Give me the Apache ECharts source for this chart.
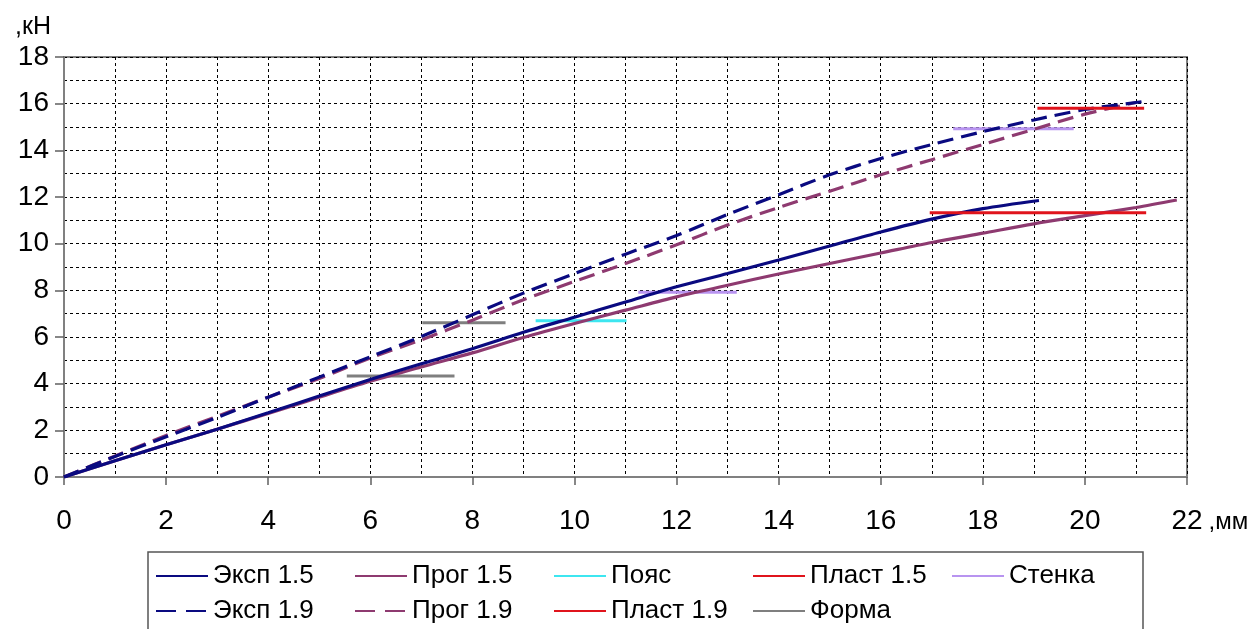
<!DOCTYPE html>
<html>
<head>
<meta charset="utf-8">
<script src="https://cdn.jsdelivr.net/npm/echarts@6/dist/echarts.min.js"></script>
<style>html,body{margin:0;padding:0;background:#fff;}#c{width:1256px;height:629px;}</style>
</head>
<body>
<div id="c"></div>
<script>
// ---- data ----
const xTicks = [0, 2, 4, 6, 8, 10, 12, 14, 16, 18, 20, 22];
const yTicks = [0, 2, 4, 6, 8, 10, 12, 14, 16, 18];

const exp15X = [0, 1, 2, 3, 4, 5, 6, 7, 8, 9, 10, 11, 12, 13, 14, 15, 16, 17, 18, 19.1];
const exp15Y = [0, 0.7, 1.38, 2.05, 2.75, 3.47, 4.18, 4.85, 5.5, 6.2, 6.85, 7.5, 8.15, 8.72, 9.3, 9.9, 10.5, 11.05, 11.5, 11.85];

const prog15X = [0, 1, 2, 3, 4, 5, 6, 7, 8, 9, 10, 11, 12, 13, 14, 15, 16, 17, 18, 19, 20, 21, 21.8];
const prog15Y = [0, 0.7, 1.38, 2.05, 2.72, 3.42, 4.1, 4.72, 5.32, 5.98, 6.58, 7.15, 7.72, 8.22, 8.7, 9.15, 9.6, 10.05, 10.45, 10.85, 11.2, 11.55, 11.87];

const exp19X = [0, 1, 2, 3, 4, 5, 6, 7, 8, 9, 10, 11, 12, 13, 14, 15, 16, 17, 18, 19, 20, 21, 21.25];
const exp19Y = [0, 0.88, 1.72, 2.55, 3.42, 4.28, 5.15, 6.02, 6.95, 7.88, 8.72, 9.55, 10.35, 11.25, 12.1, 12.95, 13.65, 14.25, 14.8, 15.3, 15.75, 16.05, 16.12];

const prog19X = [0, 1, 2, 3, 4, 5, 6, 7, 8, 9, 10, 11, 12, 13, 14, 15, 16, 17, 18, 19, 20, 21];
const prog19Y = [0, 0.9, 1.78, 2.6, 3.42, 4.22, 5.1, 5.88, 6.72, 7.6, 8.38, 9.15, 9.95, 10.8, 11.55, 12.25, 12.95, 13.6, 14.25, 14.9, 15.55, 16.05];

// horizontal levels: [xStart, xEnd, y]
const poyas   = [9.24, 11.02, 6.70];
const plast15 = [16.96, 21.2, 11.33];
const plast19 = [19.07, 21.16, 15.80];
const stenka1 = [11.25, 13.18, 7.92];
const stenka2 = [17.42, 19.78, 14.92];
const forma1  = [5.54, 7.65, 4.33];
const forma2  = [7.02, 8.65, 6.61];

const legendOrder = ['Эксп 1.5', 'Прог 1.5', 'Пояс', 'Пласт 1.5', 'Стенка', 'Эксп 1.9', 'Прог 1.9', 'Пласт 1.9', 'Форма'];
const dashedNames = ['Эксп 1.9', 'Прог 1.9'];

// ---- build ----
const zip = (xs, ys) => xs.map((x, i) => [x, ys[i]]);
const seg = s => [[s[0], s[2]], [s[1], s[2]]];
const FONT = '"Liberation Sans", Arial, sans-serif';

function lineSeries(name, data, color, width, dash, z, smooth) {
  return {
    name, type: 'line', data, symbol: 'none', showSymbol: false, smooth: smooth || false,
    lineStyle: { color, width, type: dash || 'solid' },
    itemStyle: { color },
    z: z || 2, silent: true, animation: false
  };
}

const NAVY = '#0a0a80', PLUM = '#8e3a70', CYAN = '#3de6f0', RED = '#e0141c', LILAC = '#b894f0', GRAY = '#7f7f7f';

const series = [
  lineSeries('Пояс', seg(poyas), CYAN, 3),
  lineSeries('Стенка', seg(stenka1), LILAC, 3),
  lineSeries('Стенка', seg(stenka2), LILAC, 3),
  lineSeries('Форма', seg(forma1), GRAY, 3),
  lineSeries('Форма', seg(forma2), GRAY, 3),
  lineSeries('Прог 1.5', zip(prog15X, prog15Y), PLUM, 3.2, null, 2, 0.3),
  lineSeries('Прог 1.9', zip(prog19X, prog19Y), PLUM, 3.2, [16, 8], 2, 0.3),
  lineSeries('Эксп 1.5', zip(exp15X, exp15Y), NAVY, 3.2, null, 2, 0.3),
  lineSeries('Эксп 1.9', zip(exp19X, exp19Y), NAVY, 3.2, [16, 8], 2, 0.3),
  lineSeries('Пласт 1.5', seg(plast15), RED, 3, null, 3),
  lineSeries('Пласт 1.9', seg(plast19), RED, 3, null, 3)
];

const legendData = legendOrder.map(n => dashedNames.includes(n)
  ? { name: n, lineStyle: { type: [20, 10] } }
  : { name: n });

const gridLine = { show: true, lineStyle: { color: '#000', width: 1, type: [3, 3] } };

const option = {
  backgroundColor: '#fff',
  animation: false,
  textStyle: { fontFamily: FONT },
  grid: { left: 64, right: 69, top: 57, bottom: 152, show: true, borderColor: '#808080', borderWidth: 2, backgroundColor: 'transparent', containLabel: false },
  xAxis: {
    type: 'value', min: xTicks[0], max: xTicks[xTicks.length - 1], interval: xTicks[1] - xTicks[0],
    name: ',мм', nameLocation: 'end', nameGap: 17,
    nameTextStyle: { fontSize: 24, color: '#000', fontFamily: FONT, align: 'left', verticalAlign: 'top', padding: [33, 0, 0, 0] },
    axisLine: { show: true, onZero: false, lineStyle: { color: '#808080', width: 2 } },
    axisTick: { show: true, inside: false, length: 8, lineStyle: { color: '#606060', width: 1.5 } },
    axisLabel: { fontSize: 28, color: '#000', margin: 30, fontFamily: FONT },
    splitLine: gridLine,
    minorTick: { show: false, splitNumber: 2 },
    minorSplitLine: gridLine
  },
  yAxis: {
    type: 'value', min: yTicks[0], max: yTicks[yTicks.length - 1], interval: yTicks[1] - yTicks[0],
    name: ',кН', nameLocation: 'end', nameGap: 30,
    nameTextStyle: { fontSize: 25, color: '#000', fontFamily: FONT, align: 'right', verticalAlign: 'middle', padding: [0, 13, 0, 0] },
    axisLine: { show: true, onZero: false, lineStyle: { color: '#808080', width: 2 } },
    axisTick: { show: true, inside: false, length: 9, lineStyle: { color: '#606060', width: 1.5 } },
    axisLabel: { fontSize: 28, color: '#000', margin: 15, fontFamily: FONT },
    splitLine: gridLine,
    minorTick: { show: false, splitNumber: 2 },
    minorSplitLine: gridLine
  },
  legend: {
    show: true, data: legendData, orient: 'horizontal',
    left: 148, top: 552, width: 1030,
    padding: [11, 2, 16, 7],
    itemWidth: 52, itemHeight: 14, itemGap: 9,
    borderColor: '#555', borderWidth: 1.5, backgroundColor: '#fff',
    itemStyle: { opacity: 0 },
    textStyle: { fontSize: 26, color: '#000', fontFamily: FONT, width: 132, lineHeight: 22, overflow: 'none' },
    selectedMode: false
  },
  series
};

const chart = echarts.init(document.getElementById('c'), null, { renderer: 'canvas' });
chart.setOption(option);
</script>
</body>
</html>
